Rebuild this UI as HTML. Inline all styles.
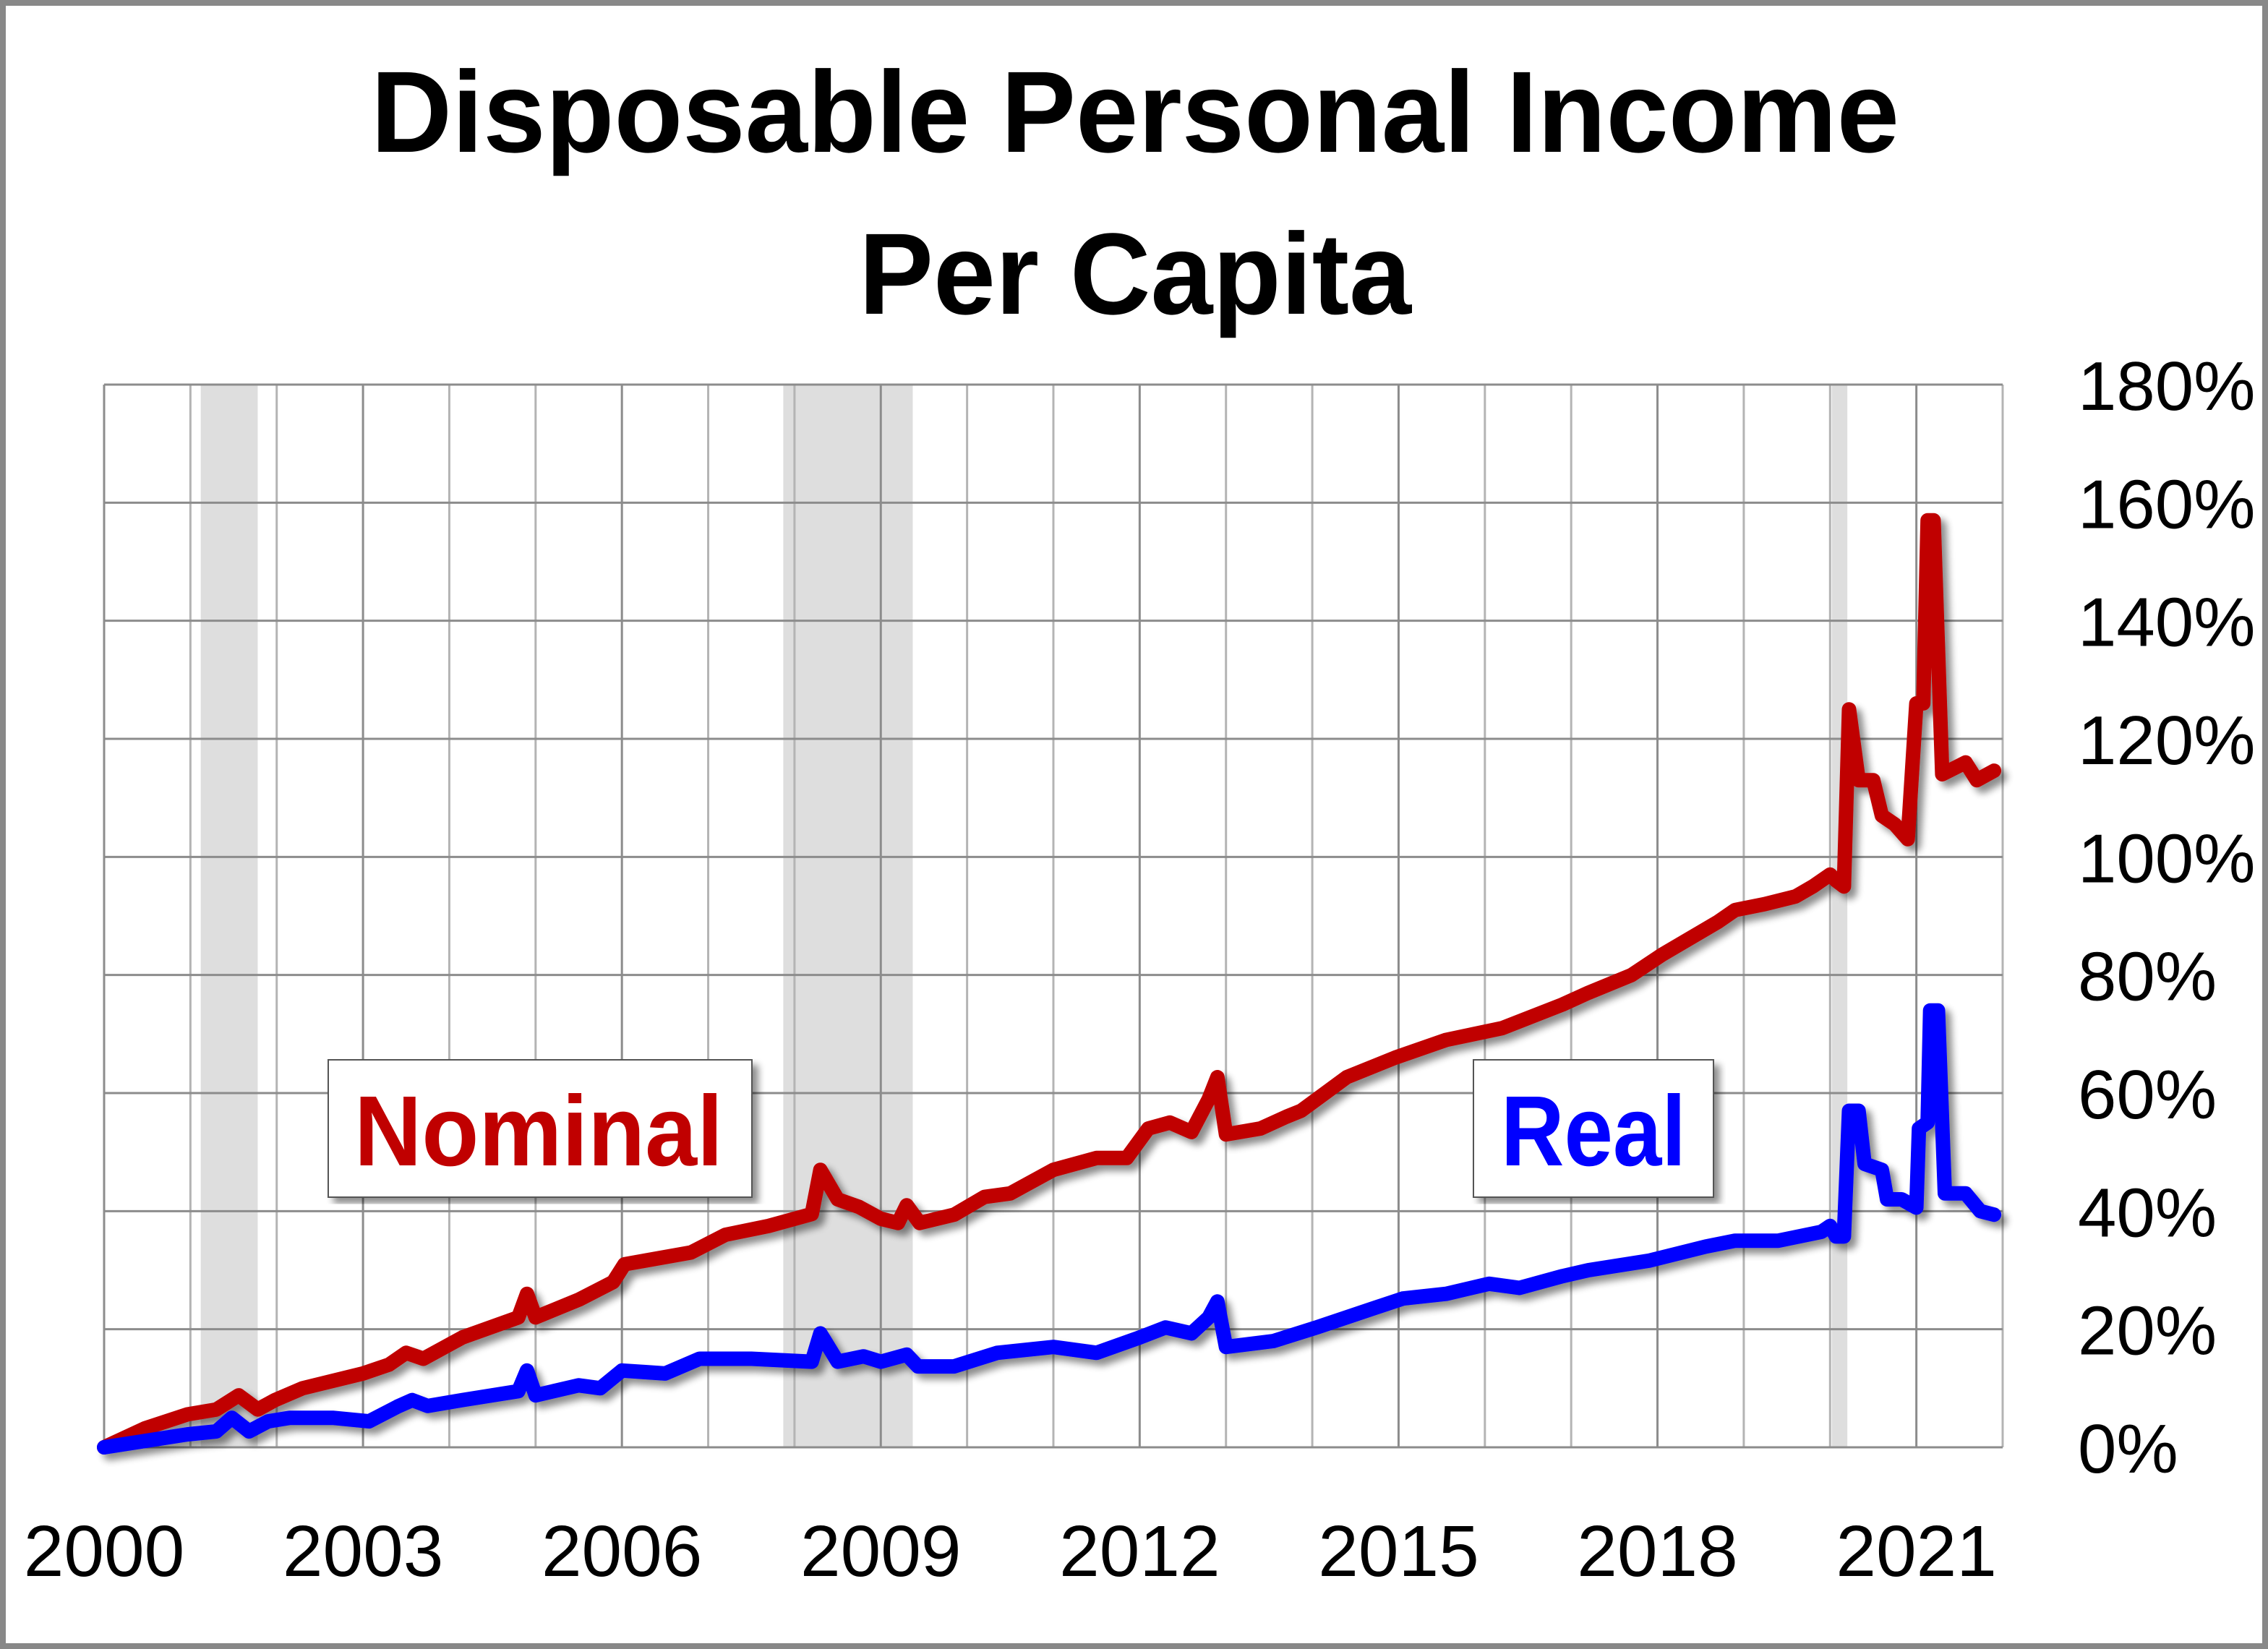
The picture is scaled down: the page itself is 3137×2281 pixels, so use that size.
<!DOCTYPE html>
<html><head><meta charset="utf-8">
<style>
html,body{margin:0;padding:0;background:#fff;}
svg{display:block;font-family:"Liberation Sans",sans-serif;}
</style></head>
<body>
<svg id="chart" width="3137" height="2281" viewBox="0 0 3137 2281" xmlns="http://www.w3.org/2000/svg">
<defs>
<filter id="sh" x="-5%" y="-5%" width="110%" height="110%">
<feGaussianBlur in="SourceAlpha" stdDeviation="5"/>
<feOffset dx="8" dy="8" result="b"/>
<feComponentTransfer><feFuncA type="linear" slope="0.45"/></feComponentTransfer>
<feMerge><feMergeNode/><feMergeNode in="SourceGraphic"/></feMerge>
</filter>
</defs>
<rect x="4" y="4" width="3129" height="2273" fill="#fff" stroke="#888" stroke-width="8"/>
<text x="1570" y="210" font-size="160" font-weight="bold" text-anchor="middle" textLength="2114" lengthAdjust="spacingAndGlyphs">Disposable Personal Income</text>
<text x="1570" y="434" font-size="160" font-weight="bold" text-anchor="middle" textLength="764" lengthAdjust="spacingAndGlyphs">Per Capita</text>
<g id="rec"></g>
<g id="grid"></g>
<g id="ylab"></g>
<g id="xlab"></g>
<g id="lines" filter="url(#sh)"></g>
<g filter="url(#sh)">
<rect x="454" y="1466" width="586" height="190" fill="#fff" stroke="#555" stroke-width="2"/>
</g>
<text x="745" y="1612" font-size="138" font-weight="bold" fill="#c00000" text-anchor="middle" textLength="510" lengthAdjust="spacingAndGlyphs">Nominal</text>
<g filter="url(#sh)">
<rect x="2038" y="1466" width="332" height="190" fill="#fff" stroke="#555" stroke-width="2"/>
</g>
<text x="2204" y="1612" font-size="138" font-weight="bold" fill="#0000ff" text-anchor="middle" textLength="256" lengthAdjust="spacingAndGlyphs">Real</text>
</svg>
<script>
const nominalYears=[0,.47,.97,1.3,1.56,1.78,1.98,2.3,3,3.3,3.5,3.7,4.15,4.8,4.9,5,5.5,5.9,6.03,6.8,7.2,7.7,8.2,8.3,8.5,8.75,9.0,9.2,9.3,9.45,9.85,10.2,10.5,11,11.5,11.85,12.1,12.35,12.6,12.8,12.9,13,13.4,13.7,13.87,14.4,14.96,15.55,16.2,16.9,17.2,17.7,18.06,18.7,18.9,19.24,19.6,19.8,20.0,20.07,20.16,20.22,20.33,20.5,20.6,20.75,20.9,21.0,21.08,21.13,21.2,21.3,21.57,21.7,21.9];
const nominalValues=[0,3.2,5.6,6.4,8.8,6.4,8,10,12.5,14,16,15,18.6,22,26,22,25,28,31,33,36,37.5,39.5,47,42,40.7,38.7,38,41,38,39.4,42.4,43,47,49,49,54,55,53.4,59,62.7,53,54,56,57,62.7,66,69,71,75,77,80,83.5,89,91,92,93.3,95,97,96,95,125,113,113,107,105.5,103,126,126,157,157,114,116,113,114.6];
const realYears=[0,.97,1.3,1.48,1.68,1.9,2.15,2.65,3.07,3.4,3.57,3.75,4.15,4.8,4.9,5,5.5,5.75,6,6.5,6.9,7.5,8.2,8.3,8.5,8.8,9,9.3,9.43,9.85,10.35,11,11.5,12,12.3,12.6,12.8,12.9,13,13.55,14.05,14.7,15.05,15.55,16.05,16.4,16.9,17.2,17.9,18.56,18.9,19.4,19.9,20,20.07,20.16,20.22,20.33,20.4,20.6,20.66,20.83,21,21.03,21.13,21.16,21.25,21.33,21.57,21.74,21.9];
const realValues=[0,2.2,2.7,5,2.7,4.4,5,5,4.4,6.9,8,7,8,9.5,13,8.8,10.5,10,13,12.5,15,15,14.5,19.3,14.5,15.4,14.5,15.7,13.7,13.7,16,17,16,18.6,20.3,19.3,22,24.7,17,18,20.3,23.5,25.2,26,27.7,27,29,30,31.6,34,35,35,36.5,37.5,35.7,35.7,57,57,48,47,42,42,40.6,54,55,74,74,43,43,40,39.4];
const yTicks=[0,20,40,60,80,100,120,140,160,180];
const xTickLabels=["2000","2003","2006","2009","2012","2015","2018","2021"];
const recessionStarts=[1.12,7.87,20.02];
const recessionEnds=[1.78,9.37,20.2];

const L=144,R=2770,T=532,B=2002;
const xs=y=>L+y*(R-L)/22;
const ys=v=>B-v*(B-T)/180;
const NS="http://www.w3.org/2000/svg";
function mk(tag,attrs,parent){const e=document.createElementNS(NS,tag);for(const k in attrs)e.setAttribute(k,attrs[k]);parent.appendChild(e);return e;}
const rec=document.getElementById('rec'),grid=document.getElementById('grid'),ylab=document.getElementById('ylab'),xlab=document.getElementById('xlab'),lines=document.getElementById('lines');
for(let i=0;i<recessionStarts.length;i++){
 const r=mk('rect',{x:xs(recessionStarts[i]),y:T,width:xs(recessionEnds[i])-xs(recessionStarts[i]),height:B-T,fill:'#dedede'},rec);
 
 
}
for(let yr=0;yr<=22;yr++){
 const l=mk('line',{x1:xs(yr),x2:xs(yr),y1:T,y2:B,stroke:yr%3===0?'#8c8c8c':'#b4b4b4','stroke-width':3},grid);
 
 
}
yTicks.forEach(v=>{
 const l=mk('line',{x1:L,x2:R,y1:ys(v),y2:ys(v),stroke:'#8c8c8c','stroke-width':3},grid);
 
 
 const t=mk('text',{x:2874,y:ys(v)+35,'font-size':96},ylab);
 t.textContent=v+'%';
 
 
});
xTickLabels.forEach(s=>{
 const t=mk('text',{x:xs(+s-2000),y:2180,'font-size':100,'text-anchor':'middle'},xlab);
 t.textContent=s;
 
 
});
function path(xv,yv,color,name){
 const d=xv.map((x,i)=>(i?'L':'M')+xs(x).toFixed(1)+','+ys(yv[i]).toFixed(1)).join('');
 const p=mk('path',{d:d,fill:'none',stroke:color,'stroke-width':20,'stroke-linejoin':'round','stroke-linecap':'round'},lines);
 
 
}
path(nominalYears,nominalValues,'#c00000','nominal-line');
path(realYears,realValues,'#0000ff','real-line');
</script>
</body></html>
